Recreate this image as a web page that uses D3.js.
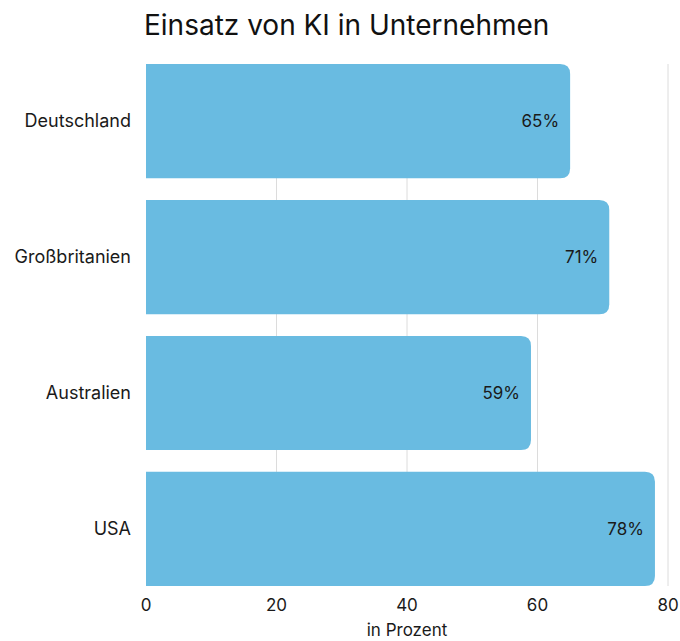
<!DOCTYPE html>
<html lang="de">
<head>
    <meta charset="UTF-8">
    <title>Einsatz von KI in Unternehmen</title>
    <script src="https://d3js.org/d3.v7.min.js"></script>
    <style>
        body { margin: 0; background: #fff; font-family: Inter, sans-serif; }
        .grid line { stroke: #dcdcdc; stroke-width: 1px; }
        .bar { fill: #69bbe1; }
        .label { font-size: 17px; fill: #1a1a1a; }
        .cat { font-size: 18px; }
    </style>
</head>
<body>
    <svg id="chart" width="680" height="641"></svg>
    <script>
        let countries = ["Deutschland", "Großbritanien", "Australien", "USA"]
        let values = [65, 71, 59, 78]
        let xTicks = [0, 20, 40, 60, 80]

        let svg = d3.select("#chart")
        let plotLeft = 146, plotRight = 668, plotTop = 64, plotBottom = 586

        let x = d3.scaleLinear().domain([0, 80]).range([plotLeft, plotRight])
        let y = d3.scaleBand().domain(countries).range([plotTop, plotBottom]).paddingInner(0.16).paddingOuter(0)

        // title
        svg.append("text")
            .attr("x", 144).attr("y", 35)
            .attr("font-size", 28)
            .attr("fill", "#111")
            .text("Einsatz von KI in Unternehmen")

        // grid
        svg.append("g").attr("class", "grid")
            .selectAll("line")
            .data(xTicks.slice(1))
            .join("line")
            .attr("x1", d => x(d)).attr("x2", d => x(d))
            .attr("y1", plotTop).attr("y2", plotBottom)

        // bars with rounded right end
        let r = 10
        function barPath(d, i) {
            let x0 = x(0), x1 = x(d), y0 = y(countries[i]), h = y.bandwidth()
            return `M${x0},${y0}H${x1 - r}Q${x1},${y0} ${x1},${y0 + r}V${y0 + h - r}Q${x1},${y0 + h} ${x1 - r},${y0 + h}H${x0}Z`
        }
        svg.selectAll(".bar")
            .data(values)
            .join("path")
            .attr("class", "bar")
            .attr("d", barPath)

        // value labels
        svg.selectAll(".val")
            .data(values)
            .join("text")
            .attr("class", "label val")
            .attr("x", d => x(d) - 11)
            .attr("y", (d, i) => y(countries[i]) + y.bandwidth() / 2)
            .attr("dy", "0.35em")
            .attr("text-anchor", "end")
            .text(d => d + "%")

        // category labels
        svg.selectAll(".cat")
            .data(countries)
            .join("text")
            .attr("class", "label cat")
            .attr("x", 131)
            .attr("y", d => y(d) + y.bandwidth() / 2)
            .attr("dy", "0.35em")
            .attr("text-anchor", "end")
            .text(d => d)

        // x axis tick labels
        svg.selectAll(".tick-label")
            .data(xTicks)
            .join("text")
            .attr("class", "label tick-label")
            .attr("x", d => x(d))
            .attr("y", 611)
            .attr("text-anchor", "middle")
            .text(d => d)

        svg.append("text")
            .attr("class", "label")
            .attr("x", (plotLeft + plotRight) / 2)
            .attr("y", 636)
            .attr("text-anchor", "middle")
            .text("in Prozent")
    </script>
</body>
</html>
